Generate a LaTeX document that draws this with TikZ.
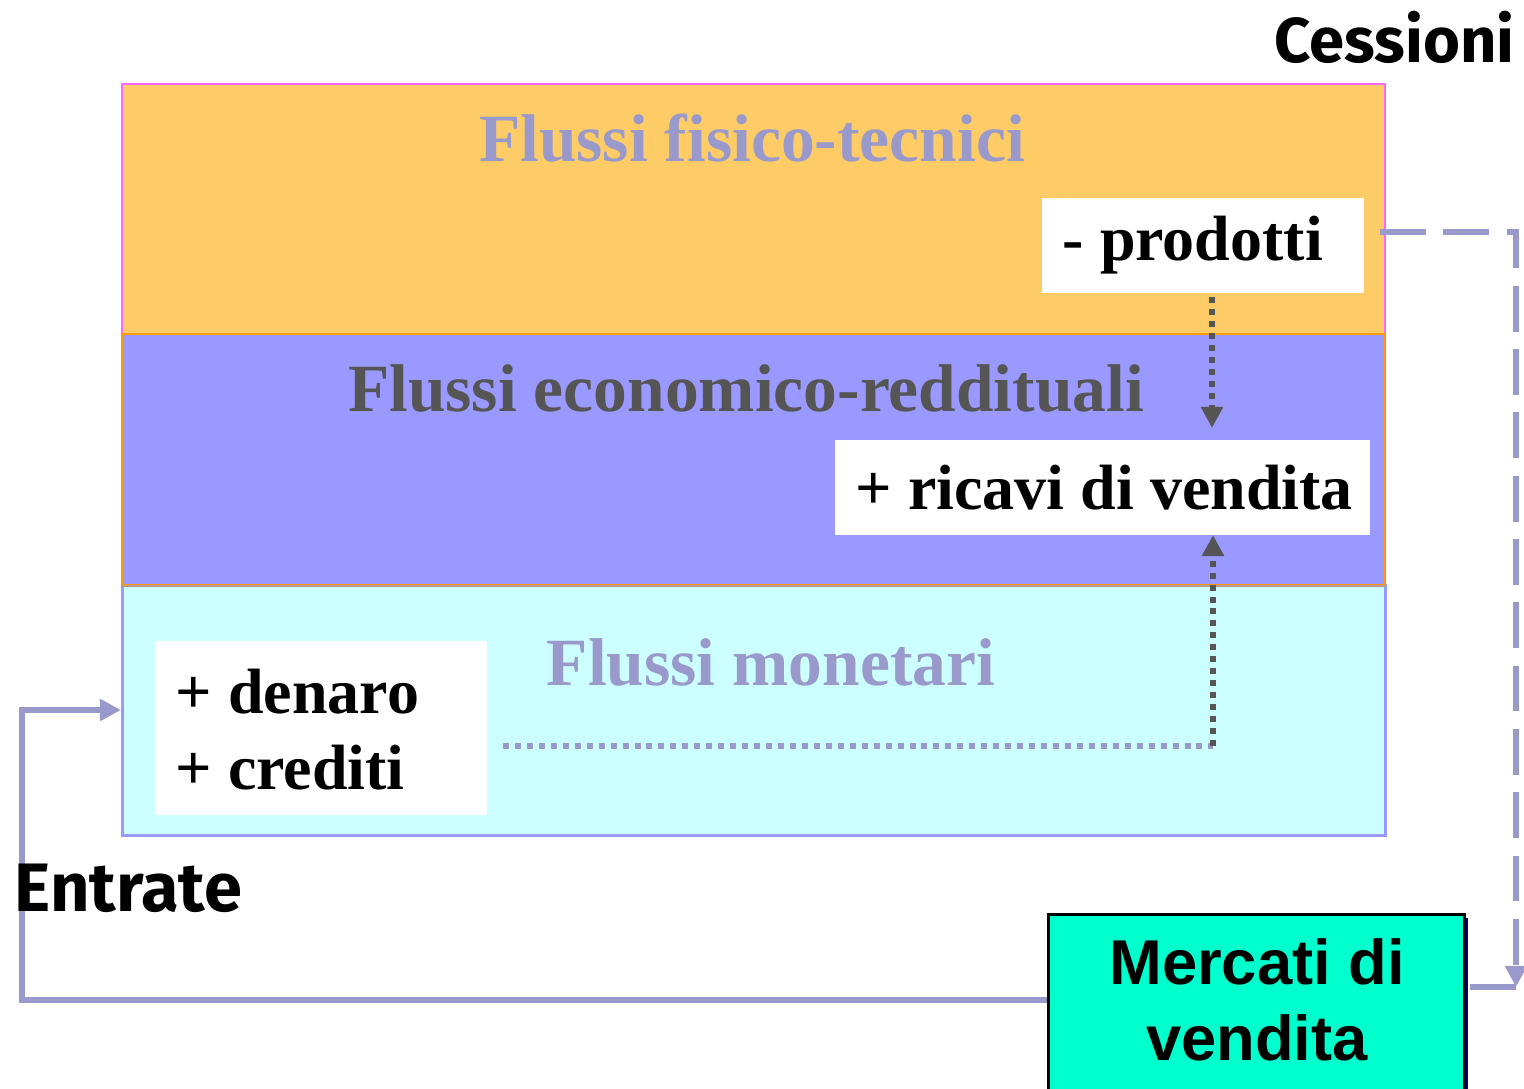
\documentclass[tikz,border=0pt]{standalone}
\usepackage{fontspec}
\setmainfont{Liberation Serif}
\newfontfamily\arialf{Liberation Sans}
\newfontfamily\comicf{Fira Sans}
\usetikzlibrary{arrows.meta}
\definecolor{orangefill}{HTML}{FECC66}
\definecolor{purplefill}{HTML}{9999FF}
\definecolor{cyanfill}{HTML}{CCFFFF}
\definecolor{pinkline}{HTML}{FF66FF}
\definecolor{orangeline}{HTML}{FF9900}
\definecolor{lilac}{HTML}{9999CC}
\definecolor{darkgray}{HTML}{555555}
\definecolor{mint}{HTML}{00FFCC}
\definecolor{navy}{HTML}{000080}
\begin{document}
\begin{tikzpicture}[x=0.01cm,y=-0.01cm,
  band/.style={inner sep=0pt, anchor=north west},
  title/.style={font=\fontsize{19.2}{22}\selectfont\bfseries},
  whitebox/.style={fill=white, inner sep=0pt, anchor=north west},
  boxtext/.style={anchor=west, inner xsep=0.21cm, inner ysep=0pt, align=left, text=black,
     font=\fontsize{18.2}{21.6}\selectfont\bfseries},
  side/.style={font=\comicf\fontsize{18}{20}\selectfont\bfseries, text=black},
  flowline/.style={lilac, line width=1.7pt},
  dotline/.style={line width=1.7pt, dash pattern=on 1.7pt off 1.7pt},
  tip/.style={-{Triangle[length=6pt,width=6pt]}}
]
\useasboundingbox[fill=white] (0,0) rectangle (1524,1089);
% bands
\node[band, fill=orangefill, draw=pinkline, line width=0.6pt, minimum width=1263*0.01cm, minimum height=250*0.01cm] (fis) at (121,83) {};
\node[band, fill=cyanfill, draw=purplefill, line width=0.8pt, minimum width=1263*0.01cm, minimum height=250*0.01cm] (mon) at (121,584) {};
\node[band, fill=purplefill, draw=orangeline, line width=0.6pt, minimum width=1263*0.01cm, minimum height=251*0.01cm] (eco) at (121,333) {};
\draw[lilac!70!orangeline, line width=0.5pt] (eco.south west) -- (eco.south east);
% titles
\node[title, text=lilac] (t1) at (752,138) {Flussi fisico-tecnici};
\node[title, text=darkgray] (t2) at (746,388) {Flussi economico-reddituali};
\node[title, text=lilac] (t3) at (771,662) {Flussi monetari};
% white boxes
\node[whitebox, minimum width=322*0.01cm, minimum height=95*0.01cm] (prod) at (1041,197) {};
\node[boxtext] (prodt) at (prod.west) {- prodotti};
\node[whitebox, minimum width=535*0.01cm, minimum height=95*0.01cm] (ric) at (834,439) {};
\node[boxtext] (rict) at (ric.west) {+ ricavi di vendita};
\node[whitebox, minimum width=332*0.01cm, minimum height=174*0.01cm] (den) at (154,640) {};
\node[boxtext] (dent) at ([yshift=-0.02cm]den.west) {+ denaro\\+ crediti};
% dotted arrows
\coordinate (pa) at (1212,297);
\coordinate (pb) at (1212,428);
\draw[dotline, darkgray, tip] (pa) -- (pb);
\coordinate (ma) at (503,746);
\coordinate (mb) at (1213,746);
\coordinate (mc) at (1213,535);
\draw[dotline, lilac] (ma) -- (mb);
\draw[dotline, darkgray, tip] (mb) -- (mc);
% market box
\fill[navy] (1052,918) rectangle (1468,1089);
\node[draw=black, fill=mint, line width=0.8pt, band, minimum width=416*0.01cm, minimum height=176*0.01cm] (mkt) at (1047,913) {};
\node[font=\arialf\fontsize{18}{21.5}\selectfont\bfseries, align=center] (mtxt) at (1257,1000) {Mercati di\\vendita};
% dashed line from prodotti to market
\coordinate (d1) at (1380,232);
\coordinate (d2) at (1516,232);
\coordinate (d3) at (1516,987);
\draw[flowline, dash pattern=on 13pt off 5pt, tip] (d1) -- (d2) -- (d3);
\coordinate (r1) at (1470,987);
\draw[flowline] (r1) -- (1516,987);
% entrate line
\coordinate (e1) at (22,1000);
\coordinate (e2) at (22,710);
\draw[flowline, tip] (mkt.west |- e1) -- (e1) -- (e2) -- (mon.west |- e2);
% labels
\node[side, anchor=east, inner sep=0pt] (ces) at (1515,37) {Cessioni};
\node[side, anchor=west, inner sep=0pt, font=\comicf\fontsize{19.5}{22}\selectfont\bfseries] (ent) at (14,888) {Entrate};
\end{tikzpicture}
\end{document}
